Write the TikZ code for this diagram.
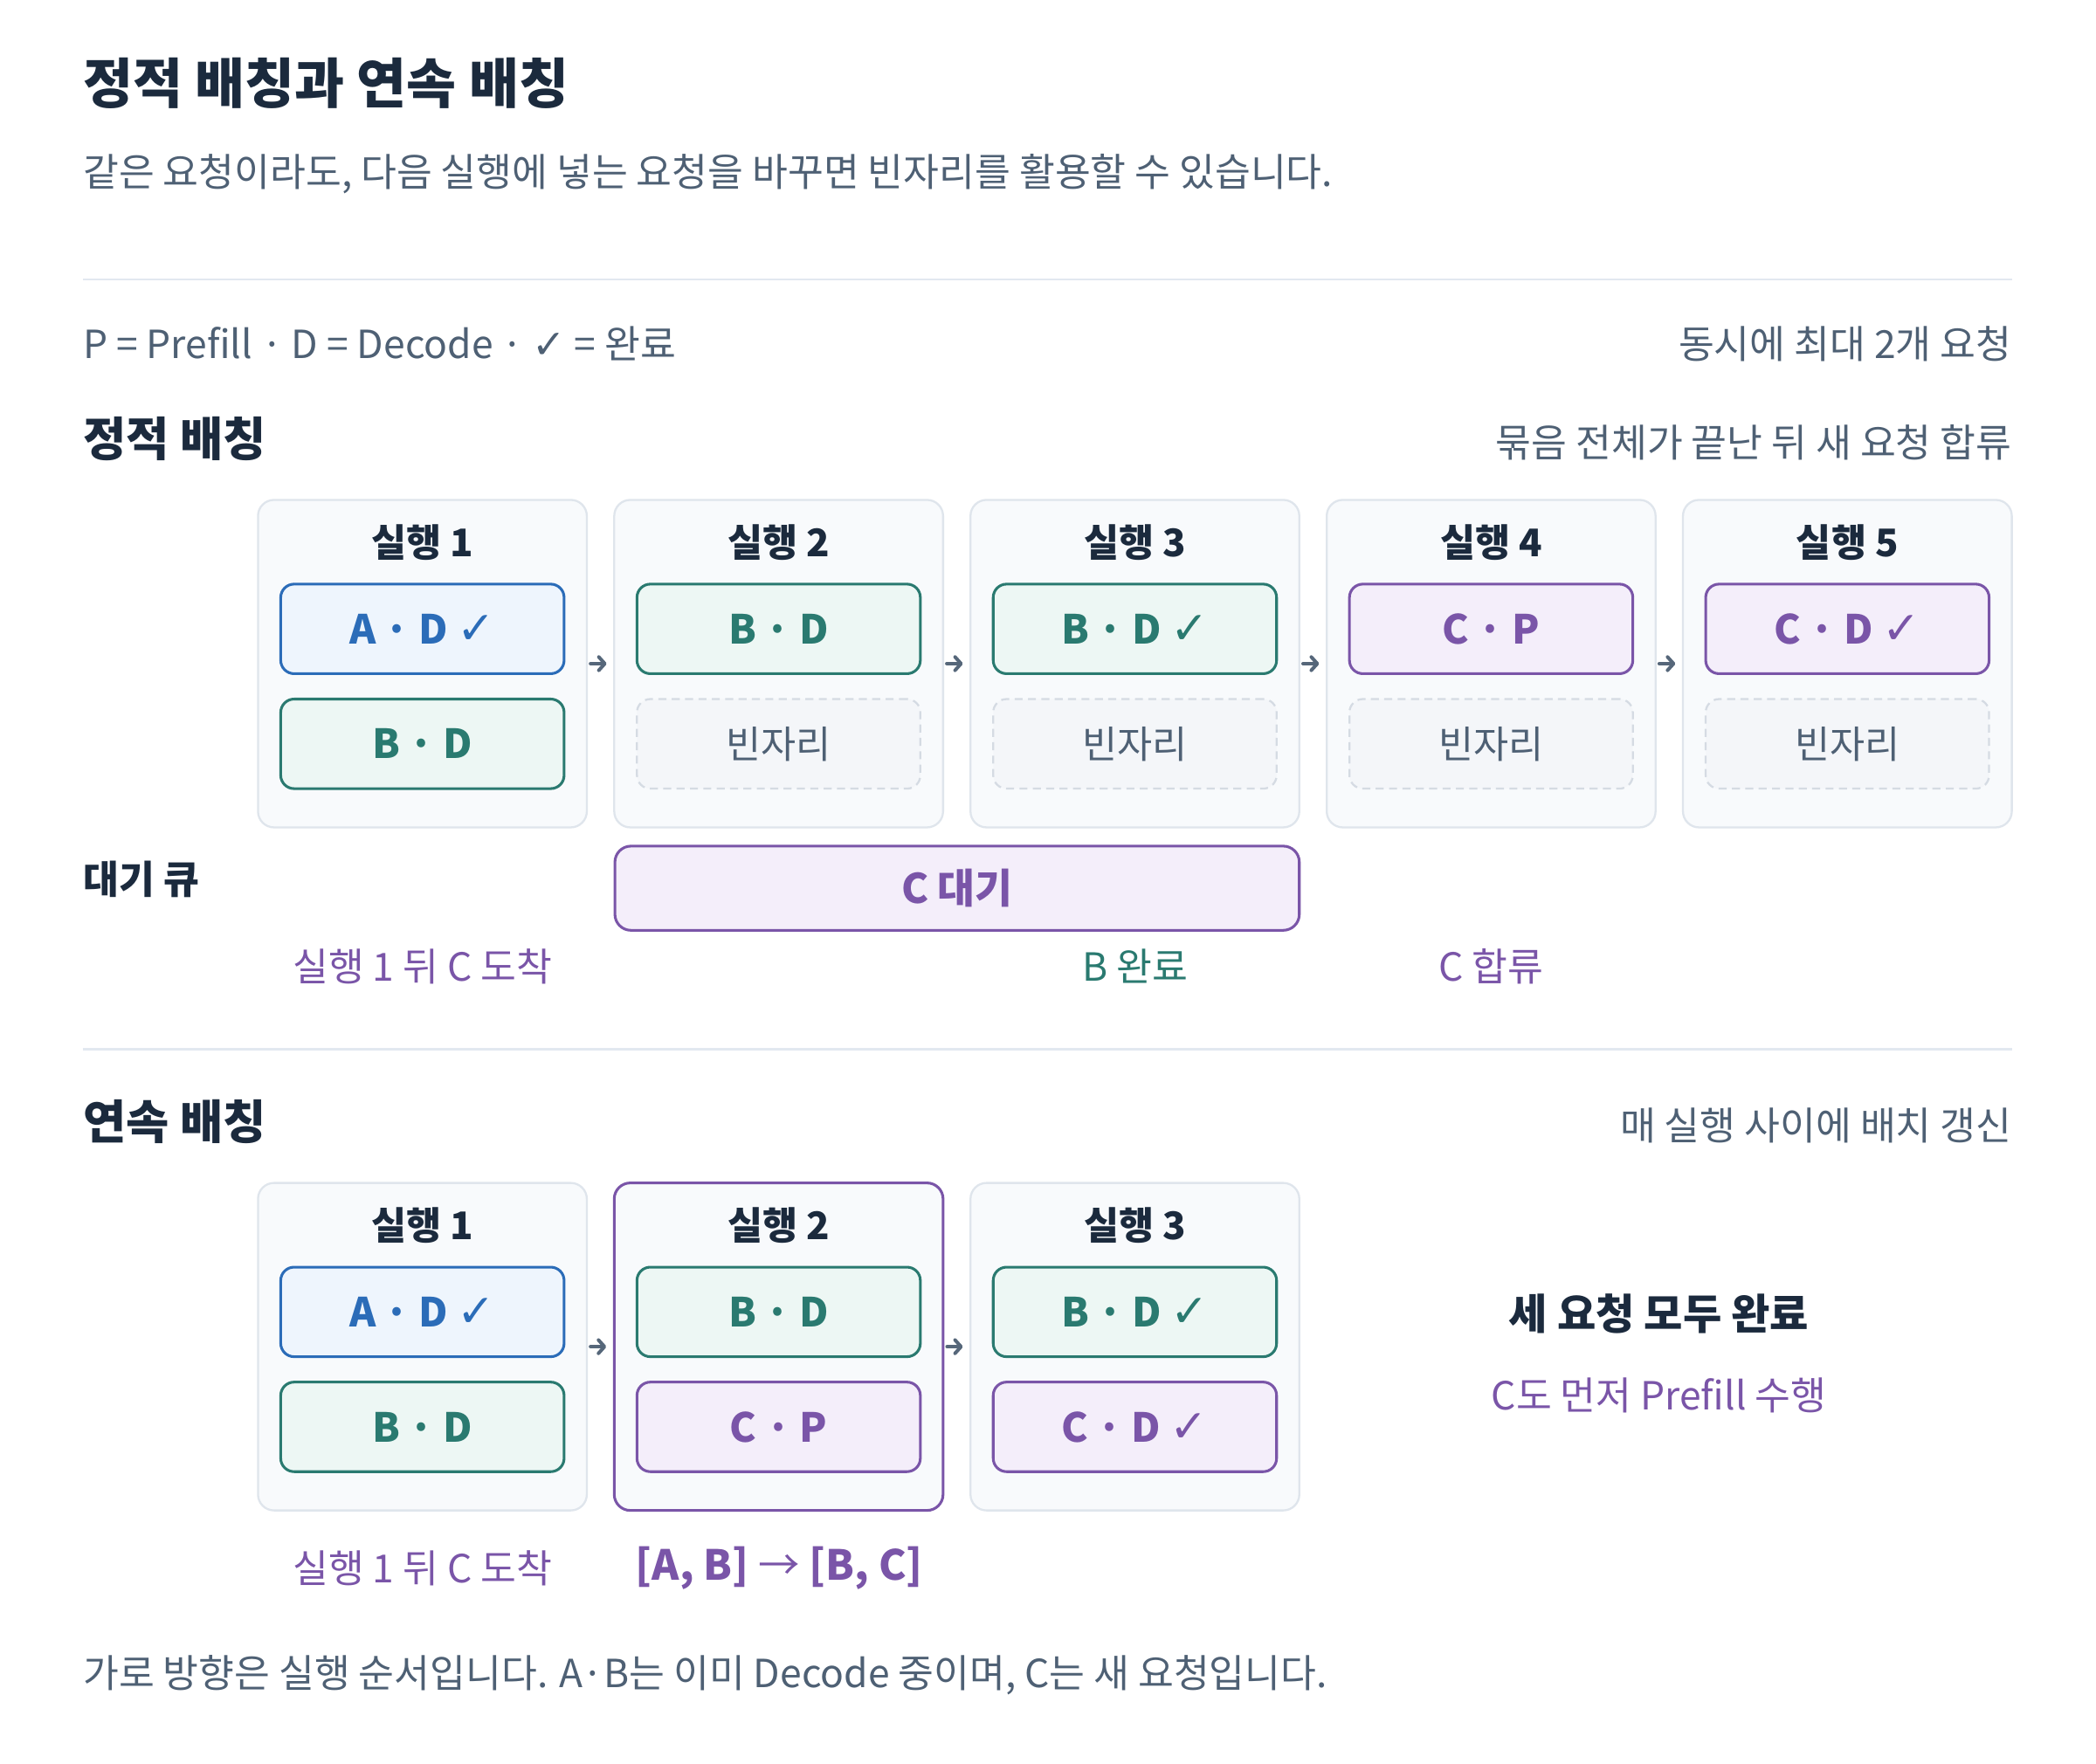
\documentclass[tikz,border=0pt]{standalone}
\usepackage{fontspec}
\setmainfont{Noto Sans CJK KR}
\newfontfamily\symfont{DejaVu Sans}
\usetikzlibrary{arrows.meta}
\definecolor{ink}{HTML}{1B2A3D}
\definecolor{muted}{HTML}{4E6074}
\definecolor{cblue}{HTML}{2B6CB8}
\definecolor{bluefill}{HTML}{EEF5FD}
\definecolor{cteal}{HTML}{2A7A70}
\definecolor{tealfill}{HTML}{EDF7F4}
\definecolor{cpurp}{HTML}{7A55A8}
\definecolor{purpfill}{HTML}{F4EEFA}
\definecolor{runfill}{HTML}{F8FAFC}
\definecolor{runline}{HTML}{DFE5EC}
\definecolor{emptyfill}{HTML}{F4F6F9}
\definecolor{emptyline}{HTML}{D5DBE3}
\definecolor{rulec}{HTML}{E2E8F0}
\definecolor{arrowc}{HTML}{56677A}
\newcommand\fs[1]{\fontsize{#1}{#1}\selectfont}
\newcommand\chk{\hspace{7pt}{\symfont\mdseries\fs{34}✓}}
\begin{document}
\begin{tikzpicture}[x=1pt,y=-1pt,
  run/.style={draw=runline, fill=runfill, line width=1.5pt, rounded corners=12pt, minimum width=246pt, minimum height=245pt, inner sep=0pt},
  slot/.style={line width=2pt, rounded corners=10pt, minimum width=212pt, minimum height=67pt, inner sep=0pt, font=\bfseries\fs{30}},
  slotA/.style={slot, draw=cblue, fill=bluefill, text=cblue},
  slotB/.style={slot, draw=cteal, fill=tealfill, text=cteal},
  slotC/.style={slot, draw=cpurp, fill=purpfill, text=cpurp},
  emptyslot/.style={slot, draw=emptyline, fill=emptyfill, dash pattern=on 6pt off 4pt, line width=1.5pt, text=muted, font=\fs{28.5}},
  runtitle/.style={font=\bfseries\fs{28.5}, text=ink, inner sep=0pt},
  lab/.style={font=\fs{29}, inner sep=0pt},
  note/.style={font=\fs{29}, text=muted, inner sep=0pt},
  head/.style={font=\bfseries\fs{35}, text=ink, inner sep=0pt, anchor=west},
  conn/.style={-{Straight Barb[length=4.5pt,width=10pt,round]}, draw=arrowc, line width=2.6pt, line cap=round, shorten <=2pt, shorten >=5pt},
  rule/.style={draw=rulec, line width=1.5pt}]
\fill[white] (0,0) rectangle (1568,1319.7);
\useasboundingbox (0,0) rectangle (1568,1319.7);

% header
\node[font=\bfseries\fs{40.5}, text=ink, inner sep=0pt, anchor=west] (title) at (62,62) {정적 배칭과 연속 배칭};
\node[note, anchor=west] (sub) at (62,130) {같은 요청이라도, 다음 실행에 넣는 요청을 바꾸면 빈자리를 활용할 수 있습니다.};
\draw[rule] (62,209) -- (1505,209);
\node[note, anchor=west] (legend) at (62,257) {P = Prefill · D = Decode · {\symfont\fs{30}✓} = 완료};
\node[note, anchor=east] (maxreq) at (1505,257) {동시에 최대 2개 요청};

% static batching
\node[head] (h1) at (62,328) {정적 배칭};
\node[note, anchor=east] (n1) at (1505,331) {묶음 전체가 끝난 뒤 새 요청 합류};

\foreach \i/\x in {1/316,2/582.5,3/849,4/1115.5,5/1382}{
  \node[run] (s\i) at (\x,496.5) {};
  \node[runtitle] (s\i t) at (\x,406) {실행 \i};
}
\node[slotA] (s1a) at (316,470.5) {A · D\chk};
\node[slotB] (s1b) at (316,556.5) {B · D};
\node[slotB] (s2a) at (582.5,470.5) {B · D};
\node[emptyslot] (s2b) at (582.5,556.5) {빈자리};
\node[slotB] (s3a) at (849,470.5) {B · D\chk};
\node[emptyslot] (s3b) at (849,556.5) {빈자리};
\node[slotC] (s4a) at (1115.5,470.5) {C · P};
\node[emptyslot] (s4b) at (1115.5,556.5) {빈자리};
\node[slotC] (s5a) at (1382,470.5) {C · D\chk};
\node[emptyslot] (s5b) at (1382,556.5) {빈자리};
\draw[conn] (s1) -- (s2);
\draw[conn] (s2) -- (s3);
\draw[conn] (s3) -- (s4);
\draw[conn] (s4) -- (s5);

\node[font=\bfseries\fs{29}, text=ink, inner sep=0pt, anchor=west] (qlabel) at (62,658) {대기 큐};
\node[slotC, minimum width=512pt, minimum height=63pt, rounded corners=12pt, font=\bfseries\fs{30.5}] (queue) at (716,664.5) {C 대기};
\node[lab, text=cpurp] (l1) at (316,723) {실행 1 뒤 C 도착};
\node[lab, text=cteal] (l2) at (849,723) {B 완료};
\node[lab, text=cpurp] (l3) at (1115.5,723) {C 합류};

\draw[rule] (62,785) -- (1505,785);

% continuous batching
\node[head] (h2) at (62,839) {연속 배칭};
\node[note, anchor=east] (n2) at (1505,842) {매 실행 사이에 배치 갱신};

\foreach \i/\x in {1/316,3/849}{
  \node[run] (c\i) at (\x,1007.5) {};
}
\node[run, draw=cpurp, line width=2pt] (c2) at (582.5,1007.5) {};
\foreach \i/\x in {1/316,2/582.5,3/849}{
  \node[runtitle] (c\i t) at (\x,917) {실행 \i};
}
\node[slotA] (c1a) at (316,981.5) {A · D\chk};
\node[slotB] (c1b) at (316,1067.5) {B · D};
\node[slotB] (c2a) at (582.5,981.5) {B · D};
\node[slotC] (c2b) at (582.5,1067.5) {C · P};
\node[slotB] (c3a) at (849,981.5) {B · D\chk};
\node[slotC] (c3b) at (849,1067.5) {C · D\chk};
\draw[conn] (c1) -- (c2);
\draw[conn] (c2) -- (c3);

\node[font=\bfseries\fs{31.5}, text=ink, inner sep=0pt] (done) at (1241,983) {세 요청 모두 완료};
\node[lab, text=cpurp] (cpre) at (1241,1044) {C도 먼저 Prefill 수행};
\node[lab, text=cpurp] (l4) at (316,1173) {실행 1 뒤 C 도착};
\node[lab, text=cpurp, font=\bfseries\fs{31}] (l5) at (583,1173) {[A, B] {\mdseries→} [B, C]};

\node[note, anchor=west] (foot) at (62,1253) {가로 방향은 실행 순서입니다. A·B는 이미 Decode 중이며, C는 새 요청입니다.};
\end{tikzpicture}
\end{document}
